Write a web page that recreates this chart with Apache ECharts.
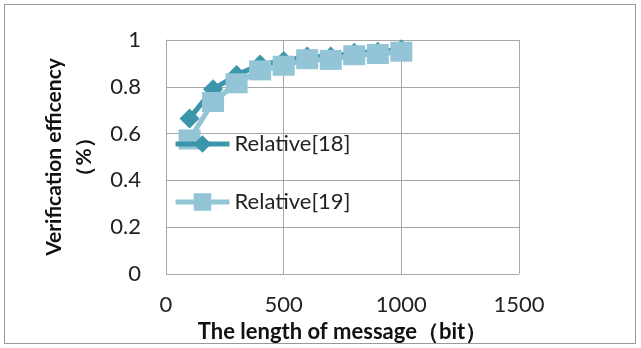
<!DOCTYPE html>
<html><head><meta charset="utf-8">
<script src="https://cdn.jsdelivr.net/npm/echarts@6/dist/echarts.min.js"></script>
<style>html,body{margin:0;padding:0;background:#fff}#c{width:641px;height:348px}
#frame{position:absolute;left:4px;top:4px;width:632px;height:340px;border:1px solid #9a9a9a;box-sizing:border-box;pointer-events:none}</style>
</head><body><div id="c"></div><div id="frame"></div>
<script>
const xValues = [100, 200, 300, 400, 500, 600, 700, 800, 900, 1000];
const rel18 = [0.665, 0.79, 0.85, 0.895, 0.91, 0.93, 0.93, 0.945, 0.95, 0.96];
const rel19 = [0.575, 0.735, 0.815, 0.87, 0.89, 0.918, 0.915, 0.935, 0.94, 0.95];
const seriesNames = ['Relative[18]', 'Relative[19]'];
const xAxisName = 'The length of message（bit）';
const yAxisName = 'Verification efficency\n（%）';

const chart = echarts.init(document.getElementById('c'));
const font = 'Lato, "Liberation Sans", sans-serif';
chart.setOption({
  animation: false,
  grid: {left: 166, right: 122, top: 40, bottom: 74},
  legend: {
    data: seriesNames, orient: 'vertical', left: 168, top: 128, itemGap: 36,
    itemWidth: 54, itemHeight: 22, itemTextGap: 4,
    lineStyle: {width: 5},
    textStyle: {fontFamily: font, fontSize: 22, color: '#222'}
  },
  xAxis: {
    type: 'value', min: 0, max: 1500, interval: 500,
    name: xAxisName, nameLocation: 'middle', nameGap: 39,
    nameTextStyle: {fontFamily: font, fontSize: 22, fontWeight: 'bold', color: '#111'},
    axisLine: {show: false}, axisTick: {show: false},
    axisLabel: {fontFamily: font, fontSize: 22, color: '#222', margin: 20, formatter: v => String(v)},
    splitLine: {lineStyle: {color: '#a8a8a8', width: 1}}
  },
  yAxis: {
    type: 'value', min: 0, max: 1, interval: 0.2,
    name: yAxisName, nameLocation: 'middle', nameGap: 64,
    nameTextStyle: {fontFamily: font, fontSize: 21, fontWeight: 'bold', color: '#111', lineHeight: 30},
    axisLine: {show: true, lineStyle: {color: '#a8a8a8'}}, axisTick: {show: false},
    axisLabel: {fontFamily: font, fontSize: 22, color: '#222', margin: 25},
    splitLine: {lineStyle: {color: '#a8a8a8', width: 1}}
  },
  series: [
    {name: seriesNames[0], type: 'line', data: xValues.map((x,i)=>[x, rel18[i]]),
     symbol: 'diamond', symbolSize: 20, lineStyle: {color: '#3b95ab', width: 5},
     itemStyle: {color: '#3b95ab'}},
    {name: seriesNames[1], type: 'line', data: xValues.map((x,i)=>[x, rel19[i]]),
     symbol: 'rect', symbolSize: [22, 20], lineStyle: {color: '#93c5d6', width: 5},
     itemStyle: {color: '#93c5d6'}}
  ]
});
</script></body></html>
